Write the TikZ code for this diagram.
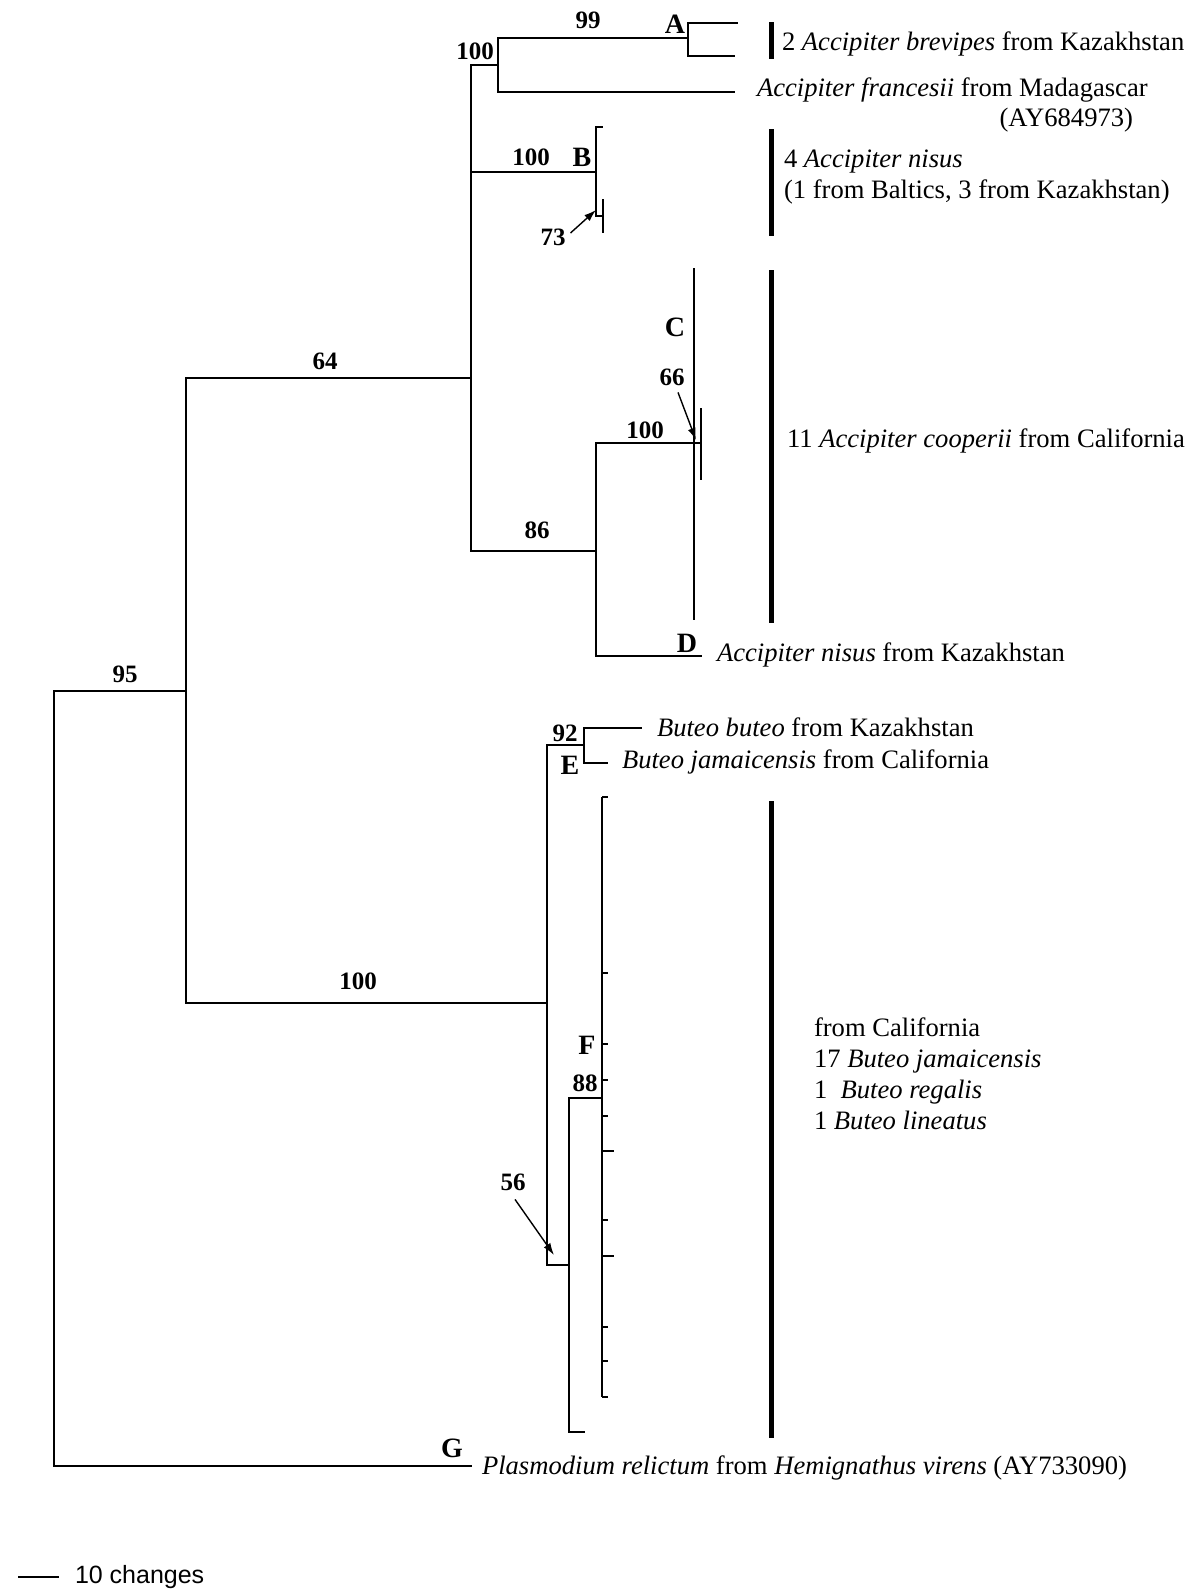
\documentclass[tikz,border=0pt]{standalone}
\usepackage{fontspec}
\setmainfont{Liberation Serif}
\newfontfamily\scalebarfont{Liberation Sans}
\usetikzlibrary{arrows.meta}

\begin{document}
\begin{tikzpicture}[
x=0.5pt, y=-0.5pt,
line width=1pt,
boot/.style={font=\bfseries\fontsize{12.5}{12.5}\selectfont, inner sep=0pt},
clade/.style={font=\bfseries\fontsize{14}{14}\selectfont, inner sep=0pt},
taxon/.style={anchor=west, inner sep=0pt, align=left,
  font=\fontsize{13.3}{15.5}\selectfont},
groupbar/.style={line width=2.5pt},
pointer/.style={line width=0.7pt, -{Latex[length=6pt,width=4pt]}}
]
\useasboundingbox (0,0) rectangle (1198,1591);

% tree nodes
\coordinate (root) at (54,1000);
\coordinate (n95) at (186,691);
\coordinate (n64) at (471,378);
\coordinate (n100a) at (498,65);
\coordinate (nA) at (688,38);
\coordinate (a1) at (738,23);
\coordinate (a2) at (735,56);
\coordinate (fr) at (735,92);
\coordinate (nB) at (596,172);
\coordinate (b1) at (603,127);
\coordinate (b2) at (603,216);
\coordinate (n86) at (596,551);
\coordinate (nC) at (694,443);
\coordinate (c2) at (701,443);
\coordinate (d) at (702,656);
\coordinate (nBut) at (547,1003);
\coordinate (nE) at (584,745);
\coordinate (e1) at (642,728);
\coordinate (e2) at (608,763);
\coordinate (n56) at (569,1265);
\coordinate (n88) at (602,1098);
\coordinate (f1) at (585,1432);
\coordinate (g) at (472,1466);

% branches
\draw (root) |- (n95);
\draw (root) |- (g);
\draw (n95) |- (n64);
\draw (n95) |- (nBut);
\draw (n64) |- (n100a);
\draw (n64) |- (nB);
\draw (n64) |- (n86);
\draw (n100a) |- (nA);
\draw (n100a) |- (fr);
\draw (nA) |- (a1);
\draw (nA) |- (a2);
\draw (nB) |- (b1);
\draw (nB) |- (b2);
\draw (603,199) -- (603,233);
\draw (n86) |- (nC);
\draw (n86) |- (d);
\draw (694,268) -- (694,620);
\draw (nC) -- (c2);
\draw (701,408) -- (701,480);
\draw (nBut) |- (nE);
\draw (nBut) |- (n56);
\draw (nE) |- (e1);
\draw (nE) |- (e2);
\draw (n56) |- (n88);
\draw (n56) |- (f1);
\draw (602,797) -- (602,1397);
\foreach \y in {797,973,1044,1080,1116,1220,1327,1361,1397}
  \draw (602,\y) -- ++(6,0);
\foreach \y in {1151,1256}
  \draw (602,\y) -- ++(12,0);

% support values
\node[boot] (s95) at (125,674) {95};
\node[boot] (s64) at (325,361) {64};
\node[boot] (s100a) at (475,51) {100};
\node[boot] (s99) at (588,20) {99};
\node[boot] (s100b) at (531,157) {100};
\node[boot] (s73) at (553,237) {73};
\node[boot] (s86) at (537,530) {86};
\node[boot] (s100c) at (645,430) {100};
\node[boot] (s66) at (672,377) {66};
\node[boot] (s100d) at (358,981) {100};
\node[boot] (s92) at (565,733) {92};
\node[boot] (s88) at (585,1083) {88};
\node[boot] (s56) at (513,1182) {56};

\draw[pointer] (s73.east) ++(4,-4) -- (596,210);
\draw[pointer] (s66.south) ++(6,6) -- (696,440);
\draw[pointer] (s56.south) ++(2,8) -- (554,1255);

% clade letters
\node[clade] (cA) at (675,24) {A};
\node[clade] (cB) at (582,157) {B};
\node[clade] (cC) at (675,327) {C};
\node[clade] (cD) at (687,643) {D};
\node[clade] (cE) at (570,765) {E};
\node[clade] (cF) at (587,1045) {F};
\node[clade] (cG) at (452,1448) {G};

% taxa
\draw[groupbar] (771,22) -- (771,59);
\node[taxon] (tA) at (781,44) {2 \textit{Accipiter brevipes} from Kazakhstan};
\node[taxon] (tFr) at (756,90) {\textit{Accipiter francesii} from Madagascar};
\node[taxon, anchor=east] (tFr2) at (1134,120) {(AY684973)};
\draw[groupbar] (771,129) -- (771,236);
\node[taxon] (tB) at (783,162) {4 \textit{Accipiter nisus}};
\node[taxon] (tB2) at (783,192) {(1 from Baltics, 3 from Kazakhstan)};
\draw[groupbar] (771,270) -- (771,623);
\node[taxon] (tC) at (786,441) {11 \textit{Accipiter cooperii} from California};
\node[taxon] (tD) at (716,655) {\textit{Accipiter nisus} from Kazakhstan};
\node[taxon] (tE1) at (656,727) {\textit{Buteo buteo} from Kazakhstan};
\node[taxon] (tE2) at (621,762) {\textit{Buteo jamaicensis} from California};
\draw[groupbar] (771,801) -- (771,1438);
\node[taxon] (tF) at (813,1074)
{from California\\17 \textit{Buteo jamaicensis}\\1 \ \textit{Buteo regalis}\\1 \textit{Buteo lineatus}};
\node[taxon] (tG) at (481,1468)
{\textit{Plasmodium relictum} from \textit{Hemignathus virens} (AY733090)};

% scale
\node[taxon, font=\scalebarfont\fontsize{12.5}{12.5}\selectfont] (scl) at (74,1577) {10 changes};
\draw (18,1577) -- (59,1577);

\end{tikzpicture}
\end{document}
